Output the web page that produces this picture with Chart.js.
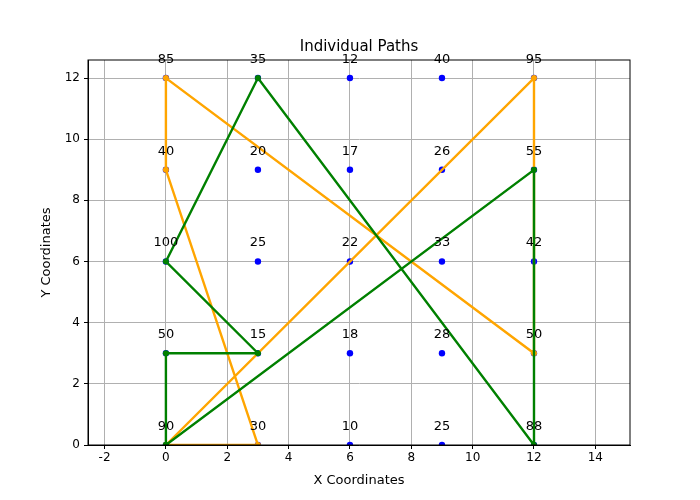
<!DOCTYPE html>
<html lang="en">
<head>
<meta charset="UTF-8" />
<title>Individual Paths</title>
<style>
  body { margin: 0; background: #fff; }
  canvas { display: block; }
</style>
</head>
<body>
<canvas id="chart" width="700" height="500"></canvas>
<script src="https://cdn.jsdelivr.net/npm/chart.js"></script>
<script>
  const gridX = [0, 3, 6, 9, 12];
  const gridY = [12, 9, 6, 3, 0];
  // labels by row (top to bottom), column (left to right)
  const pointLabels = [
    [85, 35, 12, 40, 95],
    [40, 20, 17, 26, 55],
    [100, 25, 22, 33, 42],
    [50, 15, 18, 28, 50],
    [90, 30, 10, 25, 88]
  ];
  const orangePath = [[0,0],[12,12],[12,3],[0,12],[0,9],[3,0],[0,0]];
  const greenPath = [[0,0],[0,3],[3,3],[0,6],[3,12],[12,0],[12,9],[0,0]];
  const xTicks = [-2, 0, 2, 4, 6, 8, 10, 12, 14];
  const yTicks = [0, 2, 4, 6, 8, 10, 12];

  const font = 'DejaVu Sans';
  const points = [];
  gridY.forEach((y, r) => gridX.forEach((x, c) => points.push({ x, y, label: pointLabels[r][c] })));
  const toXY = p => ({ x: p[0], y: p[1] });

  const labelPlugin = {
    id: 'labels',
    afterDatasetsDraw(chart) {
      const { ctx, chartArea: a, scales: { x, y } } = chart;
      ctx.save();
      ctx.strokeStyle = '#000';
      ctx.lineWidth = 1;
      ctx.strokeRect(a.left, a.top, a.right - a.left, a.bottom - a.top);
      ctx.fillStyle = '#000';
      ctx.font = '13px "' + font + '"';
      ctx.textAlign = 'center';
      ctx.textBaseline = 'bottom';
      points.forEach(p => ctx.fillText(String(p.label), x.getPixelForValue(p.x), y.getPixelForValue(p.y) - 12));
      ctx.font = '15px "' + font + '"';
      ctx.fillText('Individual Paths', (a.left + a.right) / 2, a.top - 5);
      ctx.textBaseline = 'middle';
      ctx.font = '13px "' + font + '"';
      ctx.fillText('X Coordinates', (a.left + a.right) / 2, 481);
      ctx.translate(47, (a.top + a.bottom) / 2);
      ctx.rotate(-Math.PI / 2);
      ctx.fillText('Y Coordinates', 0, 0);
      ctx.restore();
    }
  };

  new Chart(document.getElementById('chart'), {
    type: 'scatter',
    data: {
      datasets: [
        { data: greenPath.map(toXY), showLine: true, borderColor: 'green', backgroundColor: 'green',
          borderWidth: 2.4, pointRadius: 3, pointBorderWidth: 0 },
        { data: orangePath.map(toXY), showLine: true, borderColor: 'orange', backgroundColor: 'orange',
          borderWidth: 2.4, pointRadius: 3, pointBorderWidth: 0 },
        { data: points.map(p => ({ x: p.x, y: p.y })), backgroundColor: 'blue', borderColor: 'blue',
          pointRadius: 3.2, pointBorderWidth: 0 }
      ]
    },
    options: {
      responsive: false,
      animation: false,
      layout: { padding: { top: 60, right: 70, left: 0, bottom: 0 } },
      plugins: { legend: { display: false }, tooltip: { enabled: false } },
      scales: {
        x: {
          type: 'linear', min: -2.54, max: 15.13,
          afterBuildTicks: s => { s.ticks = xTicks.map(v => ({ value: v })); },
          afterFit: s => { s.height = 55; },
          grid: { color: '#b0b0b0', tickColor: '#000', tickLength: 4 },
          border: { color: '#000' },
          ticks: { color: '#000', font: { family: font, size: 12 }, padding: 2, maxRotation: 0 }
        },
        y: {
          type: 'linear', min: 0, max: 12.59,
          afterBuildTicks: s => { s.ticks = yTicks.map(v => ({ value: v })); },
          afterFit: s => { s.width = 88; },
          grid: { color: '#b0b0b0', tickColor: '#000', tickLength: 4 },
          border: { color: '#000' },
          ticks: { color: '#000', font: { family: font, size: 12 }, padding: 4 }
        }
      }
    },
    plugins: [labelPlugin]
  });
</script>
</body>
</html>
